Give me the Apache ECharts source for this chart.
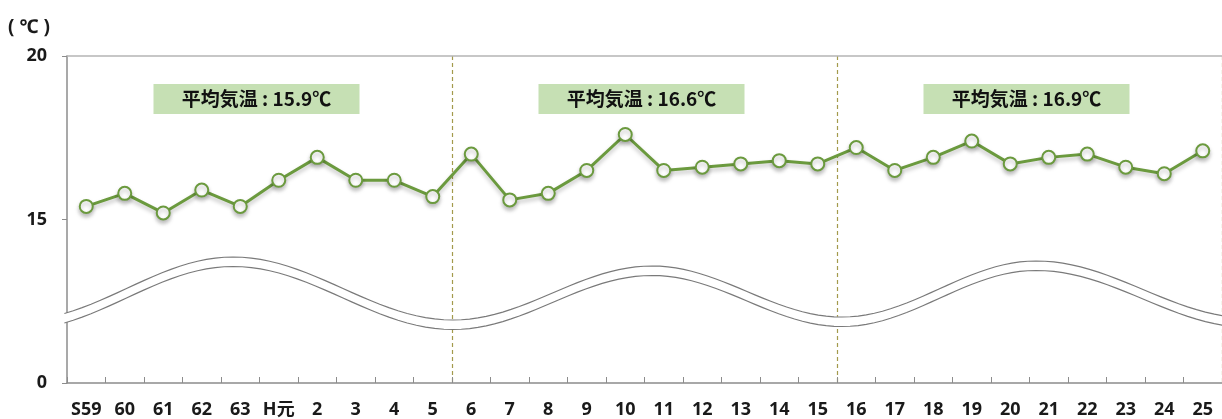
<!DOCTYPE html>
<html>
<head>
<meta charset="utf-8">
<script src="https://cdn.jsdelivr.net/npm/echarts@6/dist/echarts.min.js"></script>
<style>
  html, body { margin: 0; padding: 0; background: #fff; }
  #main { width: 1222px; height: 419px; }
</style>
</head>
<body>
<div id="main"></div>
<script>
// 年度（昭和59年〜令和7年）
var categories = ['S59', '60', '61', '62', '63', 'H元', '2', '3', '4', '5',
  '6', '7', '8', '9', '10', '11', '12', '13', '14', '15',
  '16', '17', '18', '19', '20', '21', '22', '23', '24', '25']
// 年平均気温 (℃)
var temps = [15.4, 15.8, 15.2, 15.9, 15.4, 16.2, 16.9, 16.2, 16.2, 15.7,
  17.0, 15.6, 15.8, 16.5, 17.6, 16.5, 16.6, 16.7, 16.8, 16.7,
  17.2, 16.5, 16.9, 17.4, 16.7, 16.9, 17.0, 16.6, 16.4, 17.1]
// 10年ごとの平均
var avgTemps = ['15.9', '16.6', '16.9']
var periodStart = [0, 10, 20]
var periodEnd = [9, 19, 29]
var yTicks = [0, 15, 20]

var green = '#6b9a3e'

// 0〜15 を圧縮した省略軸
function toAxis(v) {
  return v >= 15 ? v - 10 : v / 3
}
function fromAxis(a) {
  return a >= 5 ? a + 10 : a * 3
}

var chart = echarts.init(document.getElementById('main'))

var option = {
  animation: false,
  textStyle: { fontFamily: '"Noto Sans", "Noto Sans CJK JP", sans-serif' },
  grid: { left: 67, top: 56, width: 1162, height: 327, containLabel: false },
  xAxis: [
    {
      type: 'category',
      data: categories,
      boundaryGap: true,
      axisLine: { lineStyle: { color: '#8c8c8c', width: 1.5 } },
      axisTick: { show: true, inside: true, length: 6, interval: 0, lineStyle: { color: '#8c8c8c' } },
      axisLabel: {
        interval: 0, margin: 18, color: '#1a1a1a', fontSize: 18, fontWeight: 'bold',
        fontFamily: '"Noto Sans", "Noto Sans CJK JP", sans-serif'
      },
      splitLine: {
        show: true,
        interval: function (index) { return index === periodStart[1] || index === periodStart[2] },
        lineStyle: { color: '#a39a4c', type: [4, 3], width: 1.2 }
      }
    },
    {
      type: 'category',
      position: 'top',
      data: categories,
      axisLine: { lineStyle: { color: '#b5b5b5', width: 1.5 } },
      axisTick: { show: false },
      axisLabel: { show: false }
    }
  ],
  yAxis: {
    type: 'value',
    min: 0,
    max: 10,
    interval: 5,
    axisLine: { show: true, lineStyle: { color: '#8c8c8c', width: 1.5 } },
    axisTick: { show: true, length: 5, lineStyle: { color: '#8c8c8c' } },
    splitLine: { show: false },
    axisLabel: {
      margin: 20, color: '#1a1a1a', fontSize: 18, fontWeight: 'bold',
      formatter: function (a) {
        var v = Math.round(fromAxis(a))
        return yTicks.indexOf(v) >= 0 ? String(v) : ''
      }
    }
  },
  series: [
    {
      type: 'line',
      data: temps.map(toAxis),
      symbol: 'circle',
      symbolSize: 13,
      lineStyle: {
        color: green, width: 3,
        shadowColor: 'rgba(0,0,0,0.25)', shadowBlur: 4, shadowOffsetY: 3
      },
      itemStyle: {
        color: '#fff', borderColor: green, borderWidth: 2,
        shadowColor: 'rgba(0,0,0,0.25)', shadowBlur: 4, shadowOffsetY: 3
      },
      z: 5
    }
  ]
}

chart.setOption(option)

// 平均気温ラベル
var graphics = []
for (var i = 0; i < avgTemps.length; i++) {
  var x0 = chart.convertToPixel({ xAxisIndex: 0 }, periodStart[i])
  var x1 = chart.convertToPixel({ xAxisIndex: 0 }, periodEnd[i])
  var cx = (x0 + x1) / 2 - 3
  graphics.push({
    type: 'rect',
    shape: { x: cx - 103, y: 84, width: 206, height: 30 },
    style: { fill: '#c6e0b4' },
    z: 10
  })
  graphics.push({
    type: 'text',
    x: cx,
    y: 99,
    style: {
      text: '平均気温 : ' + avgTemps[i] + '℃',
      align: 'center', verticalAlign: 'middle',
      font: 'bold 19px "Noto Sans CJK JP", sans-serif',
      fill: '#111'
    },
    z: 11
  })
}

// 軸の省略を表す波線（装飾）
var waveKeys = [[20, 320], [233, 257], [453, 320], [652, 266], [842, 317], [1036, 261], [1250, 318]]
var top1 = [], bot1 = []
for (var k = 0; k < waveKeys.length - 1; k++) {
  var a = waveKeys[k], b = waveKeys[k + 1]
  for (var s = 0; s < 24; s++) {
    var t = s / 24
    var px = a[0] + (b[0] - a[0]) * t
    var py = a[1] + (b[1] - a[1]) * (1 - Math.cos(Math.PI * t)) / 2
    if (px >= 61) {
      top1.push([px, py])
      bot1.push([px, py + 9.5])
    }
  }
}
graphics.push({
  type: 'polygon',
  shape: { points: top1.concat(bot1.slice().reverse()) },
  style: { fill: '#fff' },
  z: 20
})
graphics.push({ type: 'polyline', shape: { points: top1 }, style: { stroke: '#7a7a7a', lineWidth: 1.2, fill: null }, z: 21 })
graphics.push({ type: 'polyline', shape: { points: bot1 }, style: { stroke: '#7a7a7a', lineWidth: 1.2, fill: null }, z: 21 })

// 単位
graphics.push({
  type: 'text',
  x: 8,
  y: 28,
  style: { text: '( ℃ )', font: 'bold 19px "Noto Sans", "Noto Sans CJK JP", sans-serif', fill: '#1a1a1a', verticalAlign: 'middle' },
  z: 10
})

chart.setOption({ graphic: graphics })
</script>
</body>
</html>
